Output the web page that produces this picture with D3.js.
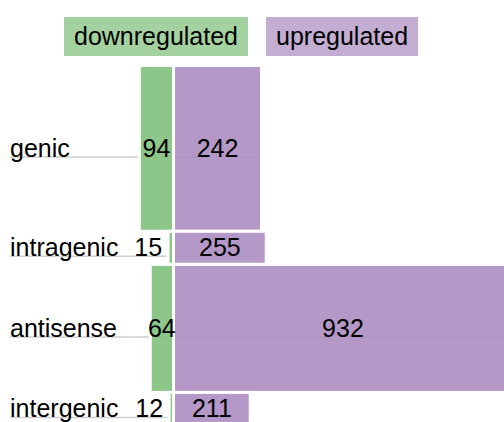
<!DOCTYPE html>
<html>
<head>
<meta charset="utf-8">
<script src="https://cdn.jsdelivr.net/npm/d3@7"></script>
<style>
  body { margin: 0; background: #fff; }
  svg { display: block; font-family: "Liberation Sans", Arial, Helvetica, sans-serif; }
</style>
</head>
<body>
<svg class="mosaic" width="504" height="422"></svg>
<script>
const categories = ['genic', 'intragenic', 'antisense', 'intergenic'];
const downValues = [94, 15, 64, 12];
const upValues = [242, 255, 932, 211];
// relative row heights (share of the vertical space, %)
const rowShare = [46.1, 9.2, 35.6, 9.2];
const seriesNames = ['downregulated', 'upregulated'];

const svg = d3.select('.mosaic');
const width = +svg.attr('width');

const colors = { downregulated: '#80c07c', upregulated: '#ac8dc2' };
const fontSize = 25;

// horizontal scale: down values go left of zero, up values right
const xScale = d3.scaleLinear()
    .domain([-477.2, 908.9])
    .range([0, width]);

// cumulative shares for row edges
const edges = [0];
rowShare.forEach((s, i) => edges.push(edges[i] + s));
const yScale = d3.scaleLinear()
    .domain([0, d3.sum(rowShare)])
    .range([65.5, 425.5]);

const rows = categories.map((c, i) => ({
    name: c,
    down: downValues[i],
    up: upValues[i],
    y0: yScale(edges[i]),
    y1: yScale(edges[i + 1])
}));

//label lines sit under the bars
const g = svg.append('g');

g.selectAll('line.guide')
    .data(rows)
    .join('line')
    .attr('class', 'guide')
    .attr('x1', 10)
    .attr('x2', d => xScale(d.up))
    .attr('y1', d => (d.y0 + d.y1) / 2 + 8.5)
    .attr('y2', d => (d.y0 + d.y1) / 2 + 8.5)
    .attr('stroke', '#cfcfcf')
    .attr('stroke-width', 1.5);

g.selectAll('text.cat')
    .data(rows)
    .join('text')
    .attr('class', 'cat')
    .attr('x', 10)
    .attr('y', d => (d.y0 + d.y1) / 2)
    .attr('dy', '0.34em')
    .style('font-size', fontSize + 'px')
    .attr('fill', '#000')
    .text(d => d.name);

// bars
const bars = rows.flatMap(d => [
    { key: 'downregulated', row: d, x0: xScale(-d.down), x1: xScale(0), value: d.down },
    { key: 'upregulated', row: d, x0: xScale(0), x1: xScale(d.up), value: d.up }
]);

g.selectAll('rect.bar')
    .data(bars)
    .join('rect')
    .attr('class', 'bar')
    .attr('x', d => d.x0)
    .attr('y', d => d.row.y0)
    .attr('width', d => d.x1 - d.x0)
    .attr('height', d => d.row.y1 - d.row.y0)
    .attr('fill', d => colors[d.key])
    .attr('fill-opacity', 0.9)
    .attr('stroke', '#fff')
    .attr('stroke-width', 3);

g.selectAll('text.val')
    .data(bars)
    .join('text')
    .attr('class', 'val')
    .attr('x', d => {
        if (d.key === 'upregulated' || d.x1 - d.x0 > 15) return (d.x0 + d.x1) / 2;
        return d.x0 - 6;
    })
    .attr('text-anchor', d => (d.key === 'upregulated' || d.x1 - d.x0 > 15) ? 'middle' : 'end')
    .attr('y', d => (d.row.y0 + d.row.y1) / 2)
    .attr('dy', '0.34em')
    .style('font-size', fontSize + 'px')
    .attr('fill', '#000')
    .text(d => d.value);

// legend
const legend = svg.append('g');
let lx = 64;
seriesNames.forEach(name => {
    const item = legend.append('g');
    const rect = item.append('rect');
    const t = item.append('text')
        .attr('x', lx + 10)
        .attr('y', 36.5)
        .attr('dy', '0.33em')
        .style('font-size', fontSize + 'px')
        .attr('fill', '#000')
        .text(name);
    const w = t.node().getComputedTextLength() + 20;
    rect.attr('x', lx)
        .attr('y', 17)
        .attr('width', w)
        .attr('height', 39)
        .attr('fill', colors[name])
        .attr('fill-opacity', 0.72);
    lx += w + 18;
});
</script>
</body>
</html>
